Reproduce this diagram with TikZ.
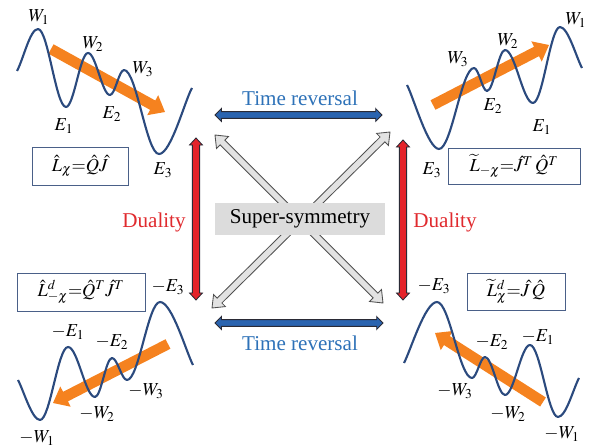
\documentclass[tikz,border=0pt]{standalone}
\usepackage{mathptmx}
\usepackage{fontspec}
\setmainfont{Liberation Serif}
\usepackage{tikz}
\usetikzlibrary{calc}
\definecolor{wavenavy}{HTML}{2B4A7E}
\definecolor{flowor}{HTML}{F5821F}
\definecolor{boxline}{HTML}{4A6088}
\definecolor{trfill}{HTML}{2A64B0}
\definecolor{trtext}{HTML}{2E72B8}
\definecolor{dufill}{HTML}{E4232A}
\definecolor{dutext}{HTML}{E02A2E}
\definecolor{darkedge}{HTML}{2A2A35}
\definecolor{susyfill}{HTML}{DCDCDC}
\definecolor{ssfill}{HTML}{E2E2E2}
\definecolor{ssedge}{HTML}{505050}
\newcommand{\labfont}{\fontsize{13}{15}\selectfont}
\newcommand{\txtfont}{\fontsize{15}{17}\selectfont}

\begin{document}
\begin{tikzpicture}[x=0.025cm,y=0.025cm,
  wave/.style={wavenavy,line width=1.5pt,line join=round},
  wv/.style={to path={let \p1=(\tikztostart),\p2=(\tikztotarget) in
    .. controls ({\x1+0.36*(\x2-\x1)},\y1) and ({\x2-0.36*(\x2-\x1)},\y2) .. (\tikztotarget)}},
  lab/.style={font=\labfont,inner sep=0pt},
  opbox/.style={draw=boxline,line width=0.6pt,minimum height=0.95cm,inner sep=2pt,font=\labfont},
  oneblock/.style args={#1/#2/#3}{to path={
    -- ($(\tikztostart)!#1!90:(\tikztotarget)$)
    -- ($(\tikztotarget)!#3!(\tikztostart)!#1!-90:(\tikztostart)$)
    -- ($(\tikztotarget)!#3!(\tikztostart)!#2!-90:(\tikztostart)$)
    -- (\tikztotarget)
    -- ($(\tikztotarget)!#3!(\tikztostart)!#2!90:(\tikztostart)$)
    -- ($(\tikztotarget)!#3!(\tikztostart)!#1!90:(\tikztostart)$)
    -- ($(\tikztostart)!#1!-90:(\tikztotarget)$)
    -- cycle}},
  dblblock/.style args={#1/#2/#3}{line width=0.6pt,line join=miter,to path={
    -- ($(\tikztostart)!#3!(\tikztotarget)!#2!90:(\tikztotarget)$)
    -- ($(\tikztostart)!#3!(\tikztotarget)!#1!90:(\tikztotarget)$)
    -- ($(\tikztotarget)!#3!(\tikztostart)!#1!-90:(\tikztostart)$)
    -- ($(\tikztotarget)!#3!(\tikztostart)!#2!-90:(\tikztostart)$)
    -- (\tikztotarget)
    -- ($(\tikztotarget)!#3!(\tikztostart)!#2!90:(\tikztostart)$)
    -- ($(\tikztotarget)!#3!(\tikztostart)!#1!90:(\tikztostart)$)
    -- ($(\tikztostart)!#3!(\tikztotarget)!#1!-90:(\tikztotarget)$)
    -- ($(\tikztostart)!#3!(\tikztotarget)!#2!-90:(\tikztotarget)$)
    -- cycle}},
  flow/.style={fill=flowor,oneblock={3.8pt/8.1pt/10pt}}]
\useasboundingbox (0,0) rectangle (592,447);

% orange flow arrows, under the waves
\coordinate (tlA) at (51,398);  \coordinate (tlB) at (165,335);
\coordinate (trA) at (433,342); \coordinate (trB) at (549,402);
\coordinate (blA) at (168,103); \coordinate (blB) at (53,44);
\coordinate (brA) at (543,45);  \coordinate (brB) at (435,114);
\fill[flow] (tlA) to (tlB);
\fill[flow] (trA) to (trB);
\fill[flow] (blA) to (blB);
\fill[flow] (brA) to (brB);

% waves
\draw[wave] (17,376) .. controls +(62:14) and +(-8,0) .. (38,418) to[wv] (66,340) to[wv] (88,394)
  to[wv] (110,352) to[wv] (124,377) to[wv] (159,293) .. controls +(12,0) and +(240:14) .. (192,359);
\draw[wave] (407,362) .. controls +(-62:14) and +(-11,0) .. (439,298) to[wv] (474,379) to[wv] (487,356)
  to[wv] (505,397) to[wv] (533,344) to[wv] (560,420) .. controls +(8,0) and +(118:12) .. (582,379);
\draw[wave] (18,67) .. controls +(-62:12) and +(-8,0) .. (40,27) to[wv] (68,100) to[wv] (95,50)
  to[wv] (112,89) to[wv] (127,67) to[wv] (160,145) .. controls +(12,0) and +(118:14) .. (193,82);
\draw[wave] (404,84) .. controls +(62:14) and +(-12,0) .. (437,145) to[wv] (472,69) to[wv] (485,90)
  to[wv] (505,52) to[wv] (530,102) to[wv] (558,30) .. controls +(8,0) and +(242:12) .. (579,69);

% level labels
\node[lab] (tlW1) at (39,430) {$W_1$};
\node[lab] (tlW2) at (93,403) {$W_2$};
\node[lab] (tlW3) at (143,378) {$W_3$};
\node[lab] (tlE1) at (64,321) {$E_1$};
\node[lab] (tlE2) at (112,333) {$E_2$};
\node[lab] (tlE3) at (163,277) {$E_3$};
\node[lab] (trW1) at (576,427) {$W_1$};
\node[lab] (trW2) at (508,406) {$W_2$};
\node[lab] (trW3) at (458,388) {$W_3$};
\node[lab] (trE2) at (493,341) {$E_2$};
\node[lab] (trE1) at (542,320) {$E_1$};
\node[lab] (trE3) at (432,277) {$E_3$};
\node[lab] (blE3) at (168,160) {$-E_3$};
\node[lab] (blE1) at (68,115) {$-E_1$};
\node[lab] (blE2) at (112,105) {$-E_2$};
\node[lab] (blW3) at (146,56) {$-W_3$};
\node[lab] (blW2) at (97,33) {$-W_2$};
\node[lab] (blW1) at (37,9) {$-W_1$};
\node[lab] (brE3) at (434,161) {$-E_3$};
\node[lab] (brE2) at (492,105) {$-E_2$};
\node[lab] (brE1) at (538,110) {$-E_1$};
\node[lab] (brW3) at (455,56) {$-W_3$};
\node[lab] (brW2) at (508,33) {$-W_2$};
\node[lab] (brW1) at (562,13) {$-W_1$};

% operator boxes
\node[opbox,minimum width=2.4cm] (boxtl) at (80,281) {$\hat L_\chi{=}\hat Q\hat J$};
\node[opbox,minimum width=3.3cm,minimum height=0.9cm] (boxtr) at (514,281) {$\widetilde L_{-\chi}{=}\hat J^T\,\hat Q^T$};
\node[opbox,minimum width=3.2cm] (boxbl) at (81,155) {$\hat L^d_{-\chi}{=}\hat Q^T\hat J^T$};
\node[opbox,minimum width=2.45cm,minimum height=0.925cm] (boxbr) at (516,155.5) {$\widetilde L^d_\chi{=}\hat J\,\hat Q$};

% symmetry connectors
\coordinate (ssA1) at (215,312); \coordinate (ssB1) at (383,144);
\coordinate (ssA2) at (390,315); \coordinate (ssB2) at (212,139);
\draw[dblblock={2.4pt/6pt/7.5pt},fill=ssfill,draw=ssedge] (ssA1) to (ssB1);
\draw[dblblock={2.4pt/6pt/7.5pt},fill=ssfill,draw=ssedge] (ssA2) to (ssB2);
\node[fill=susyfill,minimum width=4.25cm,minimum height=0.8cm,font=\txtfont] (susy) at (300,228) {Super-symmetry};

\coordinate (trA1) at (215,332); \coordinate (trB1) at (382,332);
\coordinate (trA2) at (215,124); \coordinate (trB2) at (383,124);
\draw[dblblock={2.4pt/4.6pt/4.5pt},fill=trfill,draw=darkedge] (trA1) to (trB1);
\draw[dblblock={2.4pt/4.6pt/4.5pt},fill=trfill,draw=darkedge] (trA2) to (trB2);
\node[text=trtext,font=\txtfont] (trtop) at (300,349) {Time reversal};
\node[text=trtext,font=\txtfont] (trbot) at (300,104) {Time reversal};

\coordinate (duA1) at (196,309); \coordinate (duB1) at (196,147);
\coordinate (duA2) at (403,307); \coordinate (duB2) at (403,147);
\draw[dblblock={2.6pt/4.6pt/5pt},fill=dufill,draw=darkedge] (duA1) to (duB1);
\draw[dblblock={2.6pt/4.6pt/5pt},fill=dufill,draw=darkedge] (duA2) to (duB2);
\node[text=dutext,font=\txtfont] (dualL) at (154,225) {Duality};
\node[text=dutext,font=\txtfont] (dualR) at (445,225) {Duality};
\end{tikzpicture}
\end{document}
